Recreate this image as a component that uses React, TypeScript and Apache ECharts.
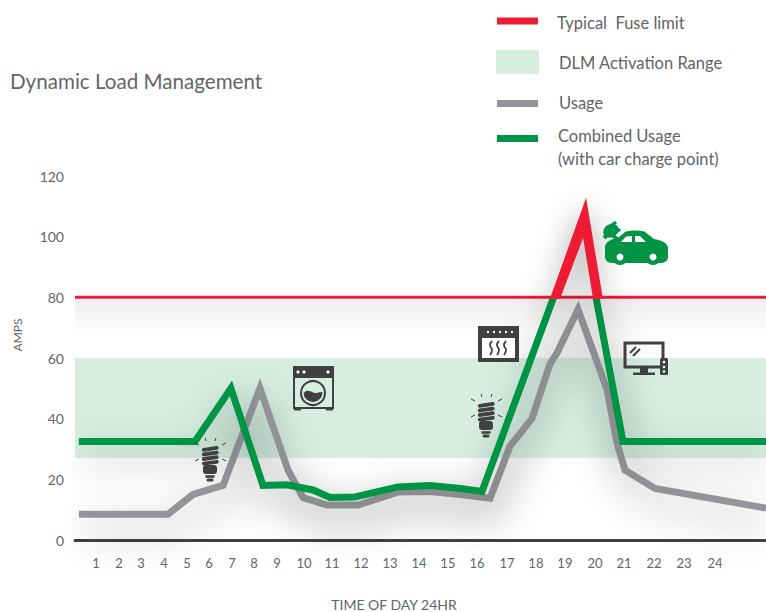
import React, { useEffect, useRef } from "react";
import * as echarts from "echarts";

const FONT = "Lato, 'Noto Sans', sans-serif";
const TEXT = "#636466";
const DARK = "#404041";
const GREEN = "#009444";
const GRAY = "#939598";
const RED = "#ed1c34";
const BAND = "#d7efe3";

const hourLabels = ["1","2","3","4","5","6","7","8","9","10","11","12","13","14","15","16","17","18","19","20","21","22","23","24"];
// The source chart's hours are unevenly spaced: position of each hour along the axis (0-30)
const hourPositions = [0.91,1.91,2.87,3.86,4.86,5.82,6.82,7.77,8.77,9.94,11.16,12.42,13.68,14.94,16.19,17.45,18.76,20.01,21.27,22.58,23.84,25.14,26.44,27.79];

const usageX = [0.17,4.04,5.12,6.43,8.03,9.25,9.9,10.94,12.29,14.02,15.41,16.72,18.02,18.89,19.84,20.62,20.93,21.84,23.1,23.53,23.88,25.18,30];
const usageY = [8.5,8.5,15,18,50,23,14,11.5,11.5,15.8,16,15,13.8,31,40,58,61.7,76,49.5,32,23,17,10.5];

const combinedX = [0.17,5.21,6.77,8.16,9.2,10.33,11.07,12.16,14.02,15.41,16.72,17.67,20.78,null,22.62,23.79,30];
const combinedY = [32.5,32.5,50,18,18.2,16.5,14,14.2,17.5,18,17,16,80,null,80,32.5,32.5];

const overloadX = [20.62,22.19,22.92,22.49,22.06,21.06];
const overloadY = [79.5,112.8,79.5,79.5,99.6,79.5];

const fuseLimit = 80;
const dlmRange = [27, 60];
const xMax = 30;

const legendRows = ["Typical  Fuse limit", "DLM Activation Range", "Usage", "Combined Usage", "(with car charge point)"];

echarts.graphic.registerShape("carBody", echarts.graphic.extendPath(
  "M605 247C605 241 613 239 619 237L625 232C629 230 641 230 645 232L654 239C661 240 668 243 668 248L668 257C668 261 664 263 660 263L612 263C608 263 605 260 605 257Z", {}));
echarts.graphic.registerShape("washWater", echarts.graphic.extendPath(
  "M-9.5 0C-6 -3.5 -3 -2 0 -0.5C3 1 6 -1.5 9.5 -1A9.5 9.5 0 0 1 -9.5 0Z", {}));

const t = (text: string, x: number, y: number, fontSize: number, extra: any = {}) => ({
  type: "text", x, y, silent: true,
  style: { text, fontSize, fontFamily: FONT, fill: TEXT, textVerticalAlign: "middle", verticalAlign: "middle", ...extra },
});
const r = (x: number, y: number, width: number, height: number, fill: string, extra: any = {}) => ({
  type: "rect", silent: true, shape: { x, y, width, height, ...extra }, style: { fill },
});
const c = (cx: number, cy: number, rad: number, fill: string) => ({
  type: "circle", silent: true, shape: { cx, cy, r: rad }, style: { fill },
});
const ln = (x1: number, y1: number, x2: number, y2: number, stroke: string, lineWidth: number) => ({
  type: "line", silent: true, shape: { x1, y1, x2, y2 }, style: { stroke, lineWidth },
});

function bulb(x: number, y: number) {
  const bars = [0, 4.6, 9.2, 13.8].map((dy) => ({
    type: "rect", silent: true, x: 0, y: dy, rotation: 0.14,
    shape: { x: -8.5, y: 0, width: 17, height: 3.8, r: 1.9 }, style: { fill: DARK },
  }));
  return {
    type: "group", x, y, silent: true,
    children: [
      ...bars,
      r(-7, 18, 14, 9, DARK, { r: 3 }),
      r(-4.5, 28.2, 9, 2.6, DARK),
      r(-3.5, 31.5, 7, 3, DARK, { r: 1.5 }),
      ln(-4, -6, -5, -9, DARK, 1),
      ln(5, -6, 6, -9, DARK, 1),
      ln(-11, -2, -15, -4, DARK, 1),
      ln(12, -2, 16, -4, DARK, 1),
      ln(-11, 12, -15, 14, DARK, 1),
      ln(12, 12, 16, 14, DARK, 1),
    ],
  };
}

const iconElements: any[] = [
  // car
  { type: "group", silent: true, children: [
    { type: "carBody", silent: true, style: { fill: GREEN } },
    { type: "polygon", silent: true, shape: { points: [[621,242],[626,236.5],[632,236],[632,242]] }, style: { fill: "#fff" } },
    { type: "polygon", silent: true, shape: { points: [[635,236],[640,236],[646,242],[635,242]] }, style: { fill: "#fff" } },
    c(620, 257, 8, GREEN), c(620, 257, 3.5, "#fff"),
    c(653, 257, 8, GREEN), c(653, 257, 3.5, "#fff"),
    { type: "ellipse", silent: true, shape: { cx: 611, cy: 231, rx: 8, ry: 6.5 }, rotation: 0.6, originX: 611, originY: 231, style: { fill: GREEN } },
    ln(604, 238, 611, 231, GREEN, 4),
    ln(611, 226, 616, 222, GREEN, 3.5),
    ln(615, 233, 620, 229, GREEN, 3.5),
    ln(612, 235, 620, 241, GREEN, 3.5),
  ]},
  // washing machine
  { type: "group", silent: true, children: [
    { type: "rect", silent: true, shape: { x: 294, y: 367, width: 39, height: 41 }, style: { fill: BAND, stroke: DARK, lineWidth: 2 } },
    r(293, 366, 41, 12, DARK, { r: [2, 2, 0, 0] }),
    c(298, 372, 1.6, "#fff"), c(304, 372, 1.6, "#fff"), c(328, 372, 1.6, "#fff"),
    r(294, 408, 7, 2.5, DARK), r(326, 408, 7, 2.5, DARK),
    { type: "circle", silent: true, shape: { cx: 313, cy: 393, r: 12 }, style: { fill: "none", stroke: DARK, lineWidth: 2 } },
    { type: "washWater", silent: true, x: 313, y: 393, style: { fill: DARK } },
  ]},
  // oven
  { type: "group", silent: true, children: [
    r(478, 326, 41, 36, DARK),
    r(482, 338, 33, 20, "#fff"),
    ...[488, 494, 500, 506, 512].map((x) => c(x, 332, 1.2, "#fff")),
    ...[491, 498, 505].map((x) => ({
      type: "polyline", silent: true,
      shape: { points: [[x + 1, 341], [x - 1, 345], [x + 1, 350], [x - 1, 355]], smooth: 0.5 },
      style: { fill: "none", stroke: DARK, lineWidth: 1.8 },
    })),
  ]},
  // monitor
  { type: "group", silent: true, children: [
    { type: "rect", silent: true, shape: { x: 625, y: 343, width: 38, height: 24 }, style: { fill: "none", stroke: DARK, lineWidth: 3 } },
    r(640, 368, 8, 5, DARK),
    r(633, 372.5, 22, 2.5, DARK),
    ln(630, 353, 636, 347, DARK, 2),
    ln(633, 356, 640, 349, DARK, 2),
    r(660, 358, 8, 17, DARK, { r: 1.5 }),
    c(664, 362, 1.3, "#fff"), c(664, 367, 1.3, "#fff"), c(664, 371.5, 1.3, "#fff"),
  ]},
  bulb(210, 447),
  bulb(486, 403),
];

const legendElements: any[] = [
  r(497, 17.5, 41, 7, RED),
  r(496, 50, 43, 24, BAND),
  r(497, 100, 41, 7, GRAY),
  r(497, 135, 41, 7, GREEN),
  t(legendRows[0], 557, 23, 16.5),
  t(legendRows[1], 559, 63, 16.5),
  t(legendRows[2], 559, 103, 16.5),
  t(legendRows[3], 558, 136, 16.5),
  t(legendRows[4], 558, 159, 16.5),
];

const axisTitleElements: any[] = [
  t("Dynamic Load Management", 10, 81, 20.6),
  t("TIME OF DAY 24HR", 394, 604.5, 14, { textAlign: "center", align: "center" }),
  { ...t("AMPS", 0, 0, 12, { textAlign: "center", align: "center" }), x: 17, y: 335, rotation: Math.PI / 2 },
];

function withZ(el: any, z: number): any {
  return { ...el, z, children: el.children ? el.children.map((ch: any) => withZ(ch, z)) : undefined };
}

const lineShadow = { shadowBlur: 38, shadowColor: "rgba(0,0,0,0.42)", shadowOffsetY: 14, shadowOffsetX: 3 };

function pairs(xs: (number | null)[], ys: (number | null)[]) {
  return xs.map((x, i) => [x, ys[i]]);
}

export default function App() {
  const ref = useRef<HTMLDivElement>(null);
  useEffect(() => {
    if (!ref.current) return;
    const chart = echarts.init(ref.current, undefined, { renderer: "svg" });
    chart.setOption({
      animation: false,
      grid: { left: 75, right: 0, top: 176, height: 364, containLabel: false },
      xAxis: {
        type: "value", min: 0, max: xMax, splitLine: { show: false },
        axisLine: { show: true, onZero: false, lineStyle: { color: DARK, width: 3 } },
        axisTick: { show: false },
        axisLabel: {
          customValues: hourPositions, margin: 16, color: TEXT, fontSize: 13, fontFamily: FONT,
          formatter: (v: number) => hourLabels[hourPositions.indexOf(v)] ?? "",
        },
      },
      yAxis: {
        type: "value", min: 0, max: 120, interval: 20, splitLine: { show: false },
        axisLine: { show: false }, axisTick: { show: false },
        axisLabel: { margin: 11, color: TEXT, fontSize: 14, fontFamily: FONT },
      },
      series: [
        {
          type: "custom", name: "DLM Activation Range", z: 1, silent: true, clip: false, data: [0],
          renderItem: (_p: any, api: any) => {
            const a = api.coord([0, dlmRange[1]]);
            const b = api.coord([xMax, dlmRange[0]]);
            const top = api.coord([0, fuseLimit]);
            return { type: "group", children: [
              { type: "rect", shape: { x: a[0], y: top[1], width: b[0] - a[0], height: a[1] - top[1] },
                style: { fill: new echarts.graphic.LinearGradient(0, 0, 0, 1, [
                  { offset: 0, color: "rgba(0,0,0,0.07)" },
                  { offset: 0.65, color: "rgba(0,0,0,0.0)" },
                  { offset: 1, color: "rgba(0,0,0,0.0)" },
                ]) } },
              { type: "rect", shape: { x: a[0], y: a[1], width: b[0] - a[0], height: b[1] - a[1] }, style: { fill: BAND } },
            ] };
          },
        },
        {
          type: "line", name: "Usage", z: 3, data: pairs(usageX, usageY), symbol: "none", clip: false, silent: true,
          lineStyle: { color: GRAY, width: 7, join: "miter", miterLimit: 20, cap: "butt", ...lineShadow },
        },
        {
          type: "line", name: "Combined Usage", z: 4, data: pairs(combinedX, combinedY), symbol: "none", clip: false, silent: true,
          connectNulls: false,
          lineStyle: { color: GREEN, width: 7, join: "miter", miterLimit: 20, cap: "butt", ...lineShadow },
        },
        {
          type: "line", name: "Typical Fuse limit", z: 5, data: [[0, fuseLimit], [xMax, fuseLimit]], symbol: "none", silent: true,
          lineStyle: { color: RED, width: 3 },
        },
        {
          type: "custom", name: "Over limit", z: 6, silent: true, clip: false, data: [0],
          renderItem: (_p: any, api: any) => ({
            type: "polygon",
            shape: { points: overloadX.map((x, i) => api.coord([x, overloadY[i]])) },
            style: { fill: RED, shadowBlur: 30, shadowColor: "rgba(0,0,0,0.4)", shadowOffsetY: 6 },
          }),
        },
      ],
      graphic: { elements: [...iconElements, ...legendElements, ...axisTitleElements].map((el) => withZ(el, 20)) },
    });
    return () => chart.dispose();
  }, []);
  return <div ref={ref} style={{ position: "absolute", left: 0, top: 0, width: 766, height: 612, overflow: "hidden" }} />;
}
